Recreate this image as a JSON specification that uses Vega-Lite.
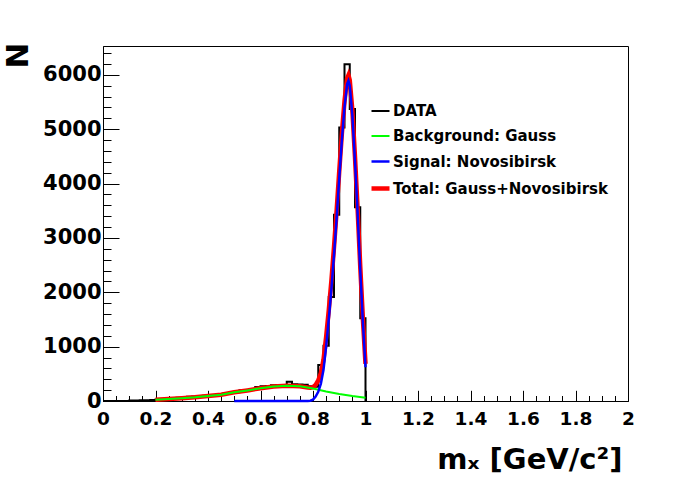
{
  "$schema": "https://vega.github.io/schema/vega-lite/v6.json",
  "description": "Invariant mass fit: data histogram with Gauss background and Novosibirsk signal",
  "width": 525,
  "height": 355,
  "autosize": {"type": "none"},
  "padding": {"left": 103, "top": 46, "right": 68, "bottom": 103},
  "background": "white",
  "config": {
    "view": {"stroke": "black", "strokeWidth": 1},
    "axis": {
      "grid": false,
      "domainColor": "black",
      "tickColor": "black",
      "labelColor": "black",
      "titleColor": "black",
      "labelFont": "DejaVu Sans",
      "titleFont": "DejaVu Sans",
      "labelFontWeight": "bold",
      "titleFontWeight": "bold",
      "labelFlush": false,
      "labelOverlap": false
    },
    "legend": {
      "labelFont": "DejaVu Sans",
      "labelFontWeight": "bold",
      "labelFontSize": 15,
      "labelColor": "black",
      "labelLimit": 0
    }
  },
  "datasets": {
    "hist": [
      {"series": "DATA", "x": 0.0, "n": 0},
      {"series": "DATA", "x": 0.02, "n": 0},
      {"series": "DATA", "x": 0.04, "n": 0},
      {"series": "DATA", "x": 0.06, "n": 0},
      {"series": "DATA", "x": 0.08, "n": 0},
      {"series": "DATA", "x": 0.10, "n": 8},
      {"series": "DATA", "x": 0.12, "n": 10},
      {"series": "DATA", "x": 0.14, "n": 12},
      {"series": "DATA", "x": 0.16, "n": 15},
      {"series": "DATA", "x": 0.18, "n": 18},
      {"series": "DATA", "x": 0.20, "n": 28},
      {"series": "DATA", "x": 0.22, "n": 35},
      {"series": "DATA", "x": 0.24, "n": 48},
      {"series": "DATA", "x": 0.26, "n": 52},
      {"series": "DATA", "x": 0.28, "n": 58},
      {"series": "DATA", "x": 0.30, "n": 66},
      {"series": "DATA", "x": 0.32, "n": 78},
      {"series": "DATA", "x": 0.34, "n": 82},
      {"series": "DATA", "x": 0.36, "n": 86},
      {"series": "DATA", "x": 0.38, "n": 96},
      {"series": "DATA", "x": 0.40, "n": 102},
      {"series": "DATA", "x": 0.42, "n": 112},
      {"series": "DATA", "x": 0.44, "n": 124},
      {"series": "DATA", "x": 0.46, "n": 148},
      {"series": "DATA", "x": 0.48, "n": 152},
      {"series": "DATA", "x": 0.50, "n": 162},
      {"series": "DATA", "x": 0.52, "n": 198},
      {"series": "DATA", "x": 0.54, "n": 202},
      {"series": "DATA", "x": 0.56, "n": 212},
      {"series": "DATA", "x": 0.58, "n": 258},
      {"series": "DATA", "x": 0.60, "n": 272},
      {"series": "DATA", "x": 0.62, "n": 278},
      {"series": "DATA", "x": 0.64, "n": 290},
      {"series": "DATA", "x": 0.66, "n": 294},
      {"series": "DATA", "x": 0.68, "n": 296},
      {"series": "DATA", "x": 0.70, "n": 352},
      {"series": "DATA", "x": 0.72, "n": 308},
      {"series": "DATA", "x": 0.74, "n": 304},
      {"series": "DATA", "x": 0.76, "n": 300},
      {"series": "DATA", "x": 0.78, "n": 270},
      {"series": "DATA", "x": 0.80, "n": 262},
      {"series": "DATA", "x": 0.82, "n": 660},
      {"series": "DATA", "x": 0.84, "n": 1015},
      {"series": "DATA", "x": 0.86, "n": 1914},
      {"series": "DATA", "x": 0.88, "n": 3425},
      {"series": "DATA", "x": 0.90, "n": 5030},
      {"series": "DATA", "x": 0.92, "n": 6196},
      {"series": "DATA", "x": 0.94, "n": 5370},
      {"series": "DATA", "x": 0.96, "n": 3565},
      {"series": "DATA", "x": 0.98, "n": 1520},
      {"series": "DATA", "x": 1.00, "n": 0}
    ],
    "total": [
      {"series": "Total: Gauss+Novosibirsk", "x": 0.20, "n": 24},
      {"series": "Total: Gauss+Novosibirsk", "x": 0.25, "n": 35},
      {"series": "Total: Gauss+Novosibirsk", "x": 0.30, "n": 50},
      {"series": "Total: Gauss+Novosibirsk", "x": 0.35, "n": 68},
      {"series": "Total: Gauss+Novosibirsk", "x": 0.40, "n": 92},
      {"series": "Total: Gauss+Novosibirsk", "x": 0.45, "n": 115},
      {"series": "Total: Gauss+Novosibirsk", "x": 0.50, "n": 160},
      {"series": "Total: Gauss+Novosibirsk", "x": 0.55, "n": 195},
      {"series": "Total: Gauss+Novosibirsk", "x": 0.60, "n": 235},
      {"series": "Total: Gauss+Novosibirsk", "x": 0.65, "n": 265},
      {"series": "Total: Gauss+Novosibirsk", "x": 0.70, "n": 280},
      {"series": "Total: Gauss+Novosibirsk", "x": 0.75, "n": 272},
      {"series": "Total: Gauss+Novosibirsk", "x": 0.78, "n": 248},
      {"series": "Total: Gauss+Novosibirsk", "x": 0.79, "n": 244},
      {"series": "Total: Gauss+Novosibirsk", "x": 0.80, "n": 253},
      {"series": "Total: Gauss+Novosibirsk", "x": 0.81, "n": 297},
      {"series": "Total: Gauss+Novosibirsk", "x": 0.82, "n": 377},
      {"series": "Total: Gauss+Novosibirsk", "x": 0.83, "n": 516},
      {"series": "Total: Gauss+Novosibirsk", "x": 0.84, "n": 760},
      {"series": "Total: Gauss+Novosibirsk", "x": 0.85, "n": 1175},
      {"series": "Total: Gauss+Novosibirsk", "x": 0.86, "n": 1666},
      {"series": "Total: Gauss+Novosibirsk", "x": 0.87, "n": 2207},
      {"series": "Total: Gauss+Novosibirsk", "x": 0.88, "n": 2830},
      {"series": "Total: Gauss+Novosibirsk", "x": 0.89, "n": 3500},
      {"series": "Total: Gauss+Novosibirsk", "x": 0.90, "n": 4230},
      {"series": "Total: Gauss+Novosibirsk", "x": 0.91, "n": 4922},
      {"series": "Total: Gauss+Novosibirsk", "x": 0.92, "n": 5515},
      {"series": "Total: Gauss+Novosibirsk", "x": 0.93, "n": 5937},
      {"series": "Total: Gauss+Novosibirsk", "x": 0.935, "n": 5993},
      {"series": "Total: Gauss+Novosibirsk", "x": 0.94, "n": 5900},
      {"series": "Total: Gauss+Novosibirsk", "x": 0.95, "n": 5342},
      {"series": "Total: Gauss+Novosibirsk", "x": 0.96, "n": 4486},
      {"series": "Total: Gauss+Novosibirsk", "x": 0.97, "n": 3530},
      {"series": "Total: Gauss+Novosibirsk", "x": 0.98, "n": 2473},
      {"series": "Total: Gauss+Novosibirsk", "x": 0.99, "n": 1517},
      {"series": "Total: Gauss+Novosibirsk", "x": 1.00, "n": 681}
    ],
    "background": [
      {"series": "Background: Gauss", "x": 0.20, "n": 24},
      {"series": "Background: Gauss", "x": 0.25, "n": 35},
      {"series": "Background: Gauss", "x": 0.30, "n": 50},
      {"series": "Background: Gauss", "x": 0.35, "n": 68},
      {"series": "Background: Gauss", "x": 0.40, "n": 92},
      {"series": "Background: Gauss", "x": 0.45, "n": 115},
      {"series": "Background: Gauss", "x": 0.50, "n": 160},
      {"series": "Background: Gauss", "x": 0.55, "n": 195},
      {"series": "Background: Gauss", "x": 0.60, "n": 235},
      {"series": "Background: Gauss", "x": 0.65, "n": 265},
      {"series": "Background: Gauss", "x": 0.70, "n": 280},
      {"series": "Background: Gauss", "x": 0.75, "n": 272},
      {"series": "Background: Gauss", "x": 0.80, "n": 228},
      {"series": "Background: Gauss", "x": 0.85, "n": 175},
      {"series": "Background: Gauss", "x": 0.90, "n": 130},
      {"series": "Background: Gauss", "x": 0.95, "n": 92},
      {"series": "Background: Gauss", "x": 1.00, "n": 61}
    ],
    "signal": [
      {"series": "Signal: Novosibirsk", "x": 0.50, "n": 0},
      {"series": "Signal: Novosibirsk", "x": 0.78, "n": 0},
      {"series": "Signal: Novosibirsk", "x": 0.79, "n": 5},
      {"series": "Signal: Novosibirsk", "x": 0.80, "n": 25},
      {"series": "Signal: Novosibirsk", "x": 0.81, "n": 80},
      {"series": "Signal: Novosibirsk", "x": 0.82, "n": 170},
      {"series": "Signal: Novosibirsk", "x": 0.83, "n": 320},
      {"series": "Signal: Novosibirsk", "x": 0.84, "n": 574},
      {"series": "Signal: Novosibirsk", "x": 0.85, "n": 1000},
      {"series": "Signal: Novosibirsk", "x": 0.86, "n": 1500},
      {"series": "Signal: Novosibirsk", "x": 0.87, "n": 2050},
      {"series": "Signal: Novosibirsk", "x": 0.88, "n": 2682},
      {"series": "Signal: Novosibirsk", "x": 0.89, "n": 3361},
      {"series": "Signal: Novosibirsk", "x": 0.90, "n": 4100},
      {"series": "Signal: Novosibirsk", "x": 0.91, "n": 4800},
      {"series": "Signal: Novosibirsk", "x": 0.92, "n": 5400},
      {"series": "Signal: Novosibirsk", "x": 0.93, "n": 5830},
      {"series": "Signal: Novosibirsk", "x": 0.935, "n": 5890},
      {"series": "Signal: Novosibirsk", "x": 0.94, "n": 5800},
      {"series": "Signal: Novosibirsk", "x": 0.95, "n": 5250},
      {"series": "Signal: Novosibirsk", "x": 0.96, "n": 4400},
      {"series": "Signal: Novosibirsk", "x": 0.97, "n": 3450},
      {"series": "Signal: Novosibirsk", "x": 0.98, "n": 2400},
      {"series": "Signal: Novosibirsk", "x": 0.99, "n": 1450},
      {"series": "Signal: Novosibirsk", "x": 1.00, "n": 620}
    ]
  },
  "encoding": {
    "x": {
      "field": "x",
      "type": "quantitative",
      "scale": {"domain": [0, 2], "nice": false, "zero": false}
    },
    "y": {
      "field": "n",
      "type": "quantitative",
      "scale": {"domain": [0, 6530], "nice": false}
    },
    "color": {
      "field": "series",
      "type": "nominal",
      "title": null,
      "scale": {
        "domain": ["DATA", "Background: Gauss", "Signal: Novosibirsk", "Total: Gauss+Novosibirsk"],
        "range": ["#000000", "#00ff00", "#0000ff", "#ff0000"]
      },
      "legend": {
        "orient": "none",
        "legendX": 266,
        "legendY": 55,
        "padding": 0,
        "symbolType": "stroke",
        "symbolSize": 324,
        "rowPadding": 7,
        "labelOffset": 1
      }
    },
    "strokeWidth": {
      "field": "series",
      "type": "ordinal",
      "title": null,
      "scale": {
        "type": "ordinal",
        "domain": ["DATA", "Background: Gauss", "Signal: Novosibirsk", "Total: Gauss+Novosibirsk"],
        "range": [2, 2, 2.5, 4.5]
      }
    }
  },
  "layer": [
    {
      "data": {"name": "hist"},
      "mark": {"type": "line", "interpolate": "step-after"},
      "encoding": {
        "x": {
          "field": "x",
          "type": "quantitative",
          "axis": {
            "orient": "bottom",
            "title": "mₓ [GeV/c²]",
            "titleFontSize": 29,
            "titleAlign": "right",
            "titleX": 519,
            "titleY": 67,
            "titleBaseline": "alphabetic",
            "values": [0, 0.2, 0.4, 0.6, 0.8, 1, 1.2, 1.4, 1.6, 1.8, 2],
            "format": "~g",
            "labelFontSize": 18.5,
            "tickSize": -10.7,
            "labelPadding": 19
          }
        },
        "y": {
          "field": "n",
          "type": "quantitative",
          "axis": {
            "orient": "left",
            "title": "N",
            "titleFontSize": 31,
            "titleAngle": 270,
            "titleAlign": "center",
            "titleBaseline": "middle",
            "titleX": -85,
            "titleY": 9,
            "values": [0, 1000, 2000, 3000, 4000, 5000, 6000],
            "format": "d",
            "labelFontSize": 21,
            "tickSize": -16,
            "labelPadding": 18
          }
        }
      }
    },
    {
      "data": {"name": "total"},
      "mark": {"type": "line"},
      "encoding": {
        "x": {"field": "x", "type": "quantitative", "axis": null},
        "y": {"field": "n", "type": "quantitative", "axis": null}
      }
    },
    {
      "data": {"name": "background"},
      "mark": {"type": "line"},
      "encoding": {
        "x": {"field": "x", "type": "quantitative", "axis": null},
        "y": {"field": "n", "type": "quantitative", "axis": null}
      }
    },
    {
      "data": {"name": "signal"},
      "mark": {"type": "line"},
      "encoding": {
        "x": {"field": "x", "type": "quantitative", "axis": null},
        "y": {"field": "n", "type": "quantitative", "axis": null}
      }
    },
    {
      "data": {"name": "hist"},
      "mark": {"type": "line", "opacity": 0},
      "encoding": {
        "x": {
          "field": "x",
          "type": "quantitative",
          "axis": {
            "orient": "bottom",
            "title": null,
            "domain": false,
            "labels": false,
            "tickSize": -5.5,
            "values": [0.05, 0.1, 0.15, 0.25, 0.3, 0.35, 0.45, 0.5, 0.55, 0.65, 0.7, 0.75, 0.85, 0.9, 0.95, 1.05, 1.1, 1.15, 1.25, 1.3, 1.35, 1.45, 1.5, 1.55, 1.65, 1.7, 1.75, 1.85, 1.9, 1.95]
          }
        },
        "y": {
          "field": "n",
          "type": "quantitative",
          "axis": {
            "orient": "left",
            "title": null,
            "domain": false,
            "labels": false,
            "tickSize": -8,
            "values": [200, 400, 600, 800, 1200, 1400, 1600, 1800, 2200, 2400, 2600, 2800, 3200, 3400, 3600, 3800, 4200, 4400, 4600, 4800, 5200, 5400, 5600, 5800, 6200, 6400]
          }
        }
      }
    }
  ],
  "resolve": {"axis": {"x": "independent", "y": "independent"}}
}
